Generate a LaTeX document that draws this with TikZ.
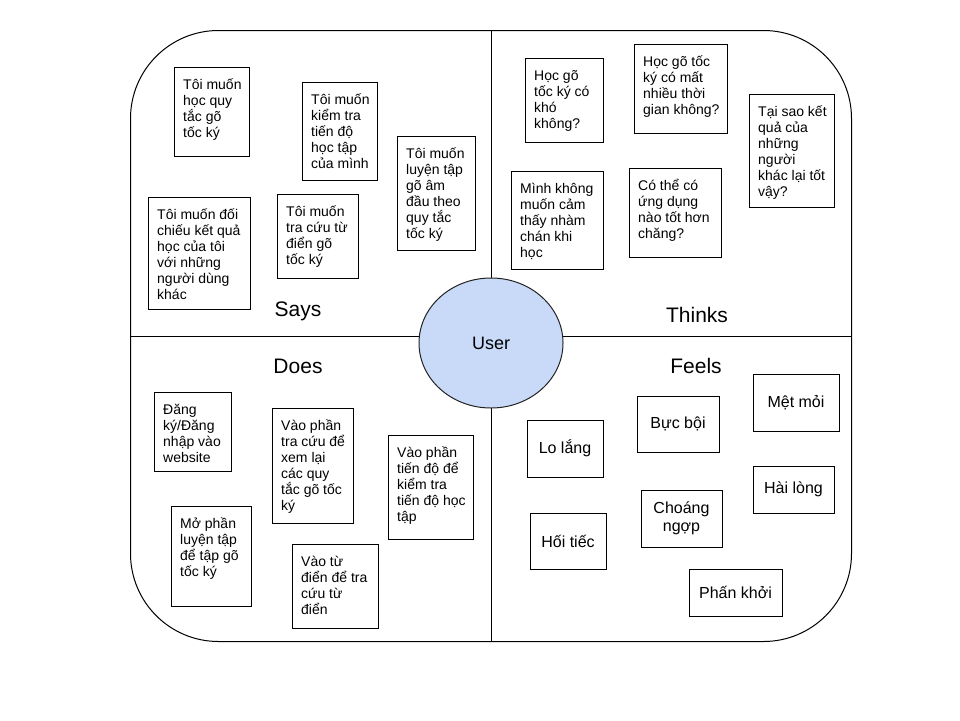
\documentclass[tikz,border=0pt]{standalone}
\usepackage{fontspec}
\setmainfont{Liberation Sans}
\usetikzlibrary{shapes.geometric}
\definecolor{userblue}{HTML}{C9DAF8}
\definecolor{edgegray}{HTML}{222222}
\tikzset{
  framebox/.style={draw=black, line width=1pt, rounded corners=88pt, outer sep=0pt, inner sep=0pt},
  divider/.style={draw=black, line width=1pt},
  notebox/.style={draw=black, line width=1pt, anchor=north west, inner sep=0pt, outer sep=0pt},
  notetext/.style={anchor=base west, inner sep=0pt, font=\fontsize{14}{16}\selectfont},
  feelbox/.style={draw=black, line width=1pt, anchor=north west, inner sep=0pt, outer sep=0pt,
    align=center, font=\fontsize{16}{18.4}\selectfont},
  quadlabel/.style={inner sep=0pt, font=\fontsize{21}{24}\selectfont},
  userellipse/.style={ellipse, draw=edgegray, line width=1pt, fill=userblue, inner sep=0pt,
    minimum width=144pt, minimum height=130pt, font=\fontsize{18}{20}\selectfont}
}
\newcommand\stickynote[6]{%
  \node[notebox, minimum width={(#4-#2)*1pt}, minimum height={(#5-#3)*1pt}] (#1) at (#2,#3) {};
  \node[notetext] (#1t) at ([xshift=9pt,yshift=-22pt]#1.north west)
    {\parbox[t]{110pt}{\raggedright #6}};
}
\newcommand\feelnote[6]{%
  \node[feelbox, minimum width={(#4-#2)*1pt}, minimum height={(#5-#3)*1pt}] (#1) at (#2,#3) {#6};
}
\begin{document}
\begin{tikzpicture}[x=1pt, y=-1pt]
\useasboundingbox (0,0) rectangle (960,720);
% frame
\node[framebox, minimum width=721pt, minimum height=611pt] (frame) at (491,336) {};
\coordinate (ftop) at (491,30);
\coordinate (fbot) at (491,641);
\draw[divider] (ftop) -- (fbot);
\draw[divider] (frame.west) -- (frame.east);
% user
\node[userellipse] (user) at (491,343) {User};
% quadrant labels
\node[quadlabel] (says) at (298,311) {Says};
\node[quadlabel] (thinks) at (697,315) {Thinks};
\node[quadlabel] (does) at (298,366) {Does};
\node[quadlabel] (feels) at (696,366) {Feels};
% Says
\stickynote{sa}{174}{67}{249}{156}{Tôi muốn\\học quy\\tắc gõ\\tốc ký}
\stickynote{sb}{302}{82}{377}{180}{Tôi muốn\\kiểm tra\\tiến độ\\học tập\\của mình}
\stickynote{sc}{397}{136}{475}{250}{Tôi muốn\\luyện tập\\gõ âm\\đầu theo\\quy tắc\\tốc ký}
\stickynote{sd}{148}{197}{250}{309}{Tôi muốn đối\\chiếu kết quả\\học của tôi\\với những\\người dùng\\khác}
\stickynote{se}{277}{194}{358}{278}{Tôi muốn\\tra cứu từ\\điển gõ\\tốc ký}
% Thinks
\stickynote{ta}{525}{58}{603}{142}{Học gõ\\tốc ký có\\khó\\không?}
\stickynote{tb}{634}{44}{727}{133}{Học gõ tốc\\ký có mất\\nhiều thời\\gian không?}
\stickynote{tc}{749}{94}{834}{207}{Tại sao kết\\quả của\\những\\người\\khác lại tốt\\vậy?}
\stickynote{td}{511}{171}{603}{269}{Mình không\\muốn cảm\\thấy nhàm\\chán khi\\học}
\stickynote{te}{629}{168}{721}{257}{Có thể có\\ứng dụng\\nào tốt hơn\\chăng?}
% Does
\stickynote{da}{154}{392}{231}{471}{Đăng\\ký/Đăng\\nhập vào\\website}
\stickynote{db}{272}{408}{353}{523}{Vào phần\\tra cứu để\\xem lại\\các quy\\tắc gõ tốc\\ký}
\stickynote{dc}{388}{435}{473}{539}{Vào phần\\tiến độ để\\kiểm tra\\tiến độ học\\tập}
\stickynote{dd}{171}{506}{251}{606}{Mở phần\\luyện tập\\để tập gõ\\tốc ký}
\stickynote{de}{292}{544}{378}{628}{Vào từ\\điển để tra\\cứu từ\\điển}
% Feels
\feelnote{fa}{527}{420}{603}{477}{Lo lắng}
\feelnote{fb}{637}{396}{719}{452}{Bực bội}
\feelnote{fc}{753}{374}{839}{431}{Mệt mỏi}
\feelnote{fd}{753}{466}{834}{513}{Hài lòng}
\feelnote{fe}{641}{490}{722}{547}{Choáng\\ngợp}
\feelnote{ff}{530}{513}{606}{569}{Hối tiếc}
\feelnote{fg}{689}{569}{782}{616}{Phấn khởi}
\end{tikzpicture}
\end{document}
